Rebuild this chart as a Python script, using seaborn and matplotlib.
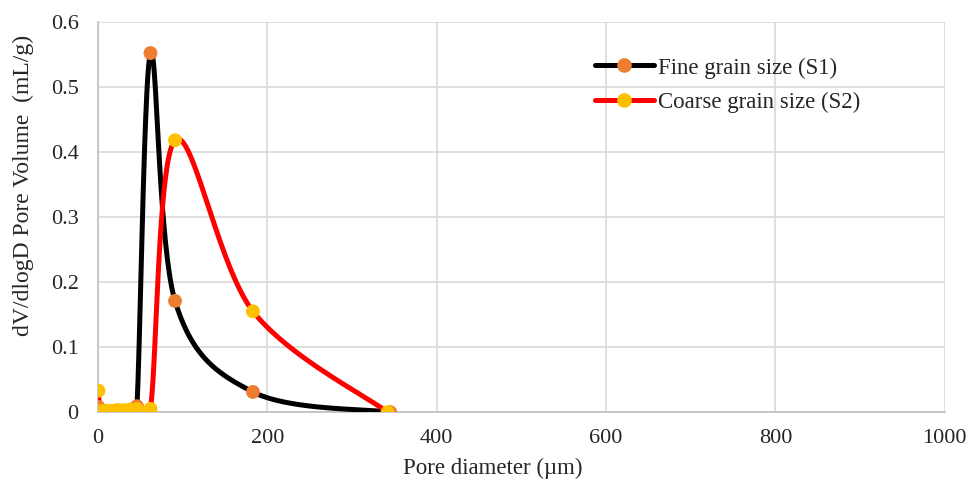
import numpy as np
import pandas as pd
import matplotlib
matplotlib.use("Agg")
import matplotlib.pyplot as plt
import seaborn as sns
from matplotlib.lines import Line2D

# Data
fine_x = [0.5, 2, 4, 7, 10, 14, 18, 22, 26, 32, 38, 46, 62, 91, 183, 345]
fine_y = [0.008, 0.002, 0.001, 0.001, 0.001, 0.001, 0.001, 0.001, 0.002, 0.002, 0.002, 0.009, 0.552, 0.171, 0.031, 0.0]
coarse_x = [0.5, 2, 4, 7, 10, 14, 18, 22, 26, 32, 38, 46, 62, 91, 183, 342]
coarse_y = [0.033, 0.001, 0.001, 0.002, 0.002, 0.002, 0.002, 0.003, 0.003, 0.003, 0.004, 0.005, 0.005, 0.418, 0.155, 0.0]
labels = ["Fine grain size (S1)", "Coarse grain size (S2)"]
x_ticks = [0, 200, 400, 600, 800, 1000]
y_ticks = [0, 0.1, 0.2, 0.3, 0.4, 0.5, 0.6]


def smooth(xs, ys, n=40):
    # Excel-like smoothed line: cubic Bezier with Catmull-Rom style control points
    P = np.column_stack([xs, ys]).astype(float)
    sc = np.array([0.847, 650.0])
    Q = P * sc
    out = []
    m = len(Q)
    for i in range(m - 1):
        p0 = Q[i - 1] if i > 0 else Q[i]
        p1 = Q[i]
        p2 = Q[i + 1]
        p3 = Q[i + 2] if i + 2 < m else Q[i + 1]
        c1 = p1 + (p2 - p0) / 6.0
        c2 = p2 - (p3 - p1) / 6.0
        t = np.linspace(0, 1, n)[:, None]
        seg = ((1 - t) ** 3) * p1 + 3 * ((1 - t) ** 2) * t * c1 + 3 * (1 - t) * t ** 2 * c2 + t ** 3 * p2
        out.append(seg if i == 0 else seg[1:])
    R = np.vstack(out) / sc
    return R[:, 0], R[:, 1]


sns.set_style("white")
plt.rcParams["font.family"] = ["Liberation Serif", "DejaVu Serif"]

fig = plt.figure(figsize=(9.7, 4.86), dpi=100)
ax = fig.add_axes([0.101, 0.152, 0.873, 0.803])

series = [(fine_x, fine_y, "black", "#ED7D31"), (coarse_x, coarse_y, "#FF0000", "#FFC000")]
handles = []
for (xs, ys, lc, mc), lab in zip(series, labels):
    sx, sy = smooth(xs, ys)
    df_line = pd.DataFrame({"x": sx, "y": sy})
    sns.lineplot(data=df_line, x="x", y="y", sort=False, estimator=None, color=lc,
                 linewidth=3.6, ax=ax, zorder=3)
for (xs, ys, lc, mc), lab in zip(series, labels):
    df_pts = pd.DataFrame({"x": xs, "y": ys})
    sns.scatterplot(data=df_pts, x="x", y="y", color=mc, s=100, edgecolor="none", ax=ax, zorder=4)
    handles.append(Line2D([0], [0], color=lc, lw=3.6, marker="o", markersize=9.5,
                          markerfacecolor=mc, markeredgecolor=mc))

ax.set_xlim(0, 1000)
ax.set_ylim(0, 0.6)
ax.set_xticks(x_ticks)
ax.set_yticks(y_ticks)
ax.set_xticklabels([str(v) for v in x_ticks])
ax.set_yticklabels(["0"] + [f"{v:.1f}" for v in y_ticks[1:]])
ax.tick_params(axis="x", labelsize=16, length=0, pad=12)
ax.tick_params(axis="y", labelsize=16, length=0, pad=14)
ax.grid(True, color="#D9D9D9", linewidth=1.2)
ax.set_axisbelow(True)
for s in ["top", "right"]:
    ax.spines[s].set_visible(False)
for s in ["left", "bottom"]:
    ax.spines[s].set_color("#BFBFBF")
    ax.spines[s].set_linewidth(1.2)

ax.set_xlabel("Pore diameter (\u00b5m)", fontsize=16.5)
ax.set_ylabel("dV/dlogD Pore Volume  (mL/g)", fontsize=17)
ax.xaxis.set_label_coords(0.466, -0.118)
ax.yaxis.set_label_coords(-0.075, 0.582)

ax.legend(handles, labels, loc="upper left", bbox_to_anchor=(0.562, 0.962), frameon=False,
          fontsize=16.5, handlelength=2.6, handletextpad=0.15, labelspacing=0.6)

fig.savefig("out.png", dpi=100)
